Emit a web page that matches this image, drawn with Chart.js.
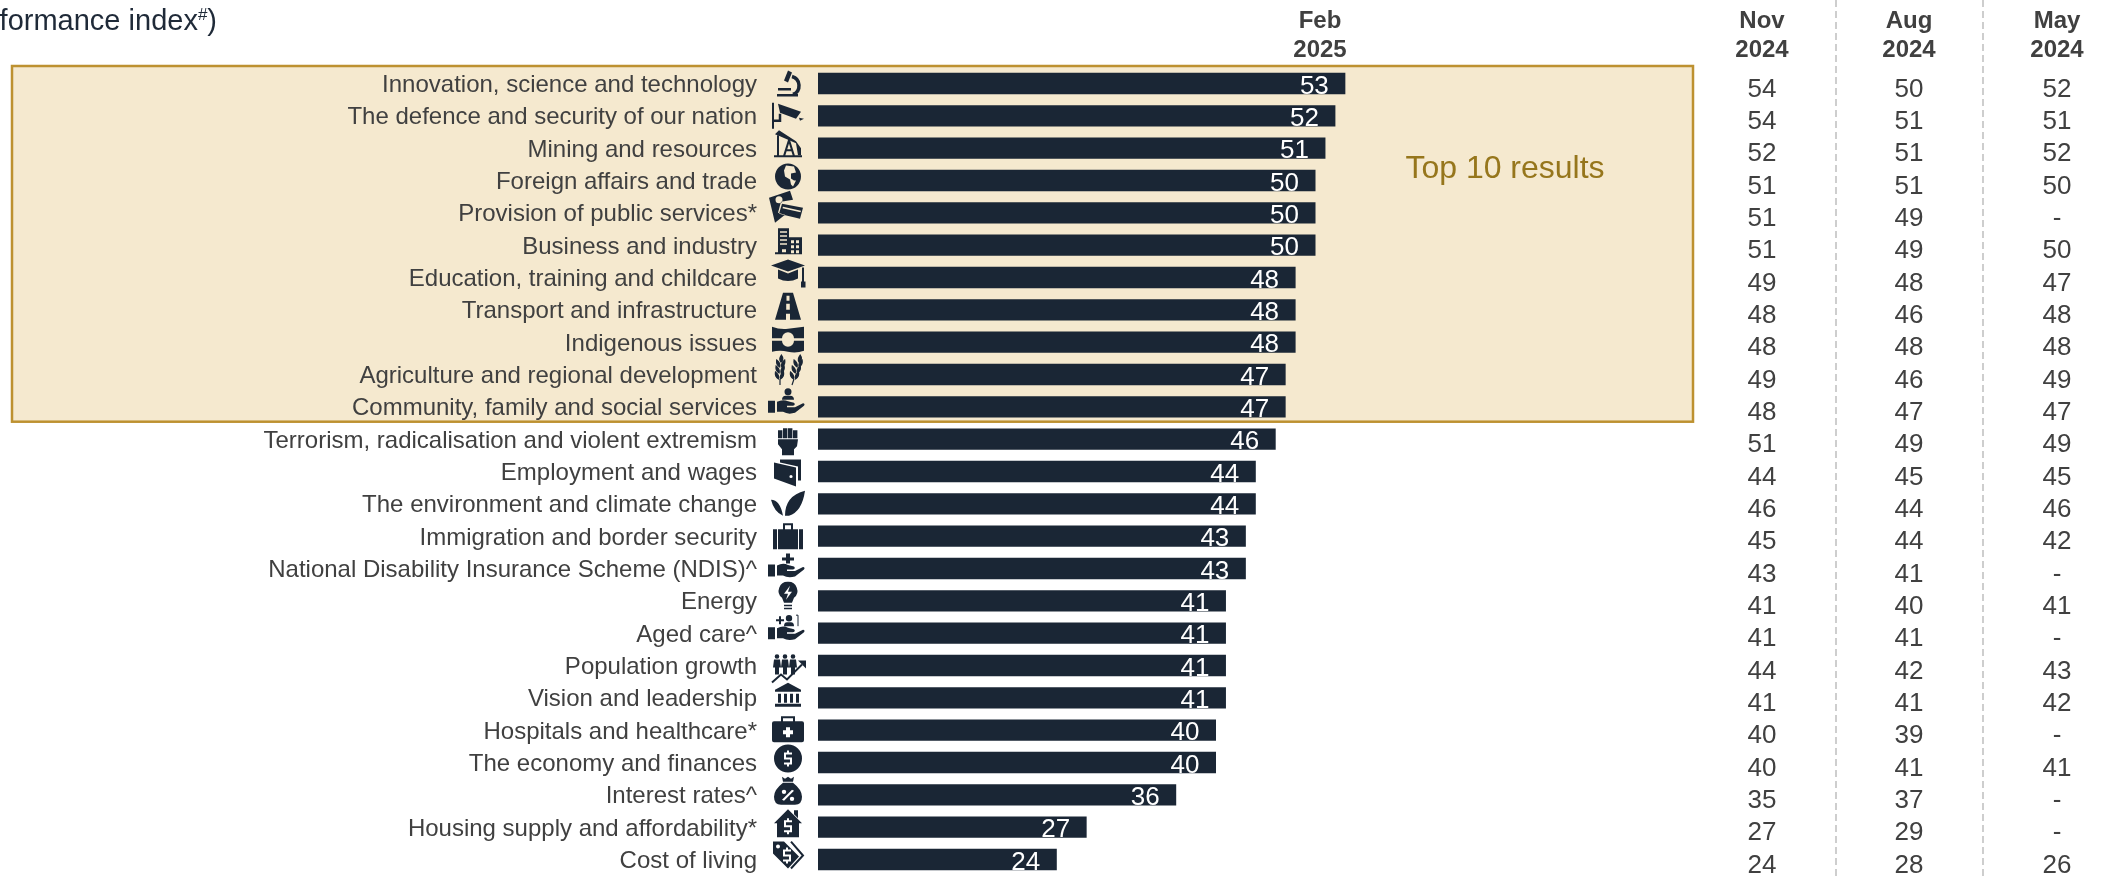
<!DOCTYPE html>
<html>
<head>
<meta charset="utf-8">
<style>
  body { margin: 0; background: #fff; }
  canvas { display: block; }
</style>
</head>
<body>
<canvas id="scoreChart" width="2103" height="876"></canvas>
<script src="https://cdn.jsdelivr.net/npm/chart.js@4/dist/chart.umd.js"></script>
<script>
// Issue names, top to bottom
const categories = [
    'Innovation, science and technology', 'The defence and security of our nation', 'Mining and resources',
    'Foreign affairs and trade', 'Provision of public services*', 'Business and industry',
    'Education, training and childcare', 'Transport and infrastructure', 'Indigenous issues',
    'Agriculture and regional development', 'Community, family and social services',
    'Terrorism, radicalisation and violent extremism', 'Employment and wages', 'The environment and climate change',
    'Immigration and border security', 'National Disability Insurance Scheme (NDIS)^', 'Energy', 'Aged care^',
    'Population growth', 'Vision and leadership', 'Hospitals and healthcare*', 'The economy and finances',
    'Interest rates^', 'Housing supply and affordability*', 'Cost of living'
];

// Index scores per wave, null where the issue was not asked
const feb2025 = [53, 52, 51, 50, 50, 50, 48, 48, 48, 47, 47, 46, 44, 44, 43, 43, 41, 41, 41, 41, 40, 40, 36, 27, 24];
const nov2024 = [54, 54, 52, 51, 51, 51, 49, 48, 48, 49, 48, 51, 44, 46, 45, 43, 41, 41, 44, 41, 40, 40, 35, 27, 24];
const aug2024 = [50, 51, 51, 51, 49, 49, 48, 46, 48, 46, 47, 49, 45, 44, 44, 41, 40, 41, 42, 41, 39, 41, 37, 29, 28];
const may2024 = [52, 51, 52, 50, null, 50, 47, 48, 48, 49, 47, 49, 45, 46, 42, null, 41, null, 43, 42, null, 41, null, null, 26];

const topResults = 11;
const BAR_COLOR = '#1a2635';
const TEXT_COLOR = '#404040';
const FONT = '"Liberation Sans", Arial, sans-serif';

// Small path helpers for the issue icons
const circle = (x, y, r) => `M${x + r},${y} A${r},${r} 0 1 1 ${x - r},${y} A${r},${r} 0 1 1 ${x + r},${y}Z`;
const rect = (x, y, w, h) => `M${x},${y} h${w} v${h} h${-w}Z`;
const dollar = (x, y) => `M${x - 4},${y - 6} h3 v-2 h2 v2 h3 v2 h-6 v3 h6 v7 h-3 v2 h-2 v-2 h-3 v-2 h6 v-3 h-6Z`;
const hand = 'M-20,-1 h7 V11 h-7Z M-11,0 Q-5,-3 0,-0.5 L6,1 Q8,3 5,4 H-1 V5.5 H7 L15,1.5 Q17.5,2 16,4 L7,11 Q0,13 -5,10 H-11Z';
const grains = (x, tilt) => {
    let d = `M${x + tilt * 14},-15 Q${x + tilt * 14 + 3},-11 ${x + tilt * 10},-8 Q${x + tilt * 14 - 3},-11 ${x + tilt * 14},-15Z`;
    for (const y of [-7, -1, 5]) {
        const mid = x - tilt * y;
        d += ` M${mid - 1},${y + 4} Q${mid - 5},${y + 2} ${mid - 4},${y - 3} Q${mid},${y} ${mid - 1},${y + 4}Z`;
        d += ` M${mid + 1},${y + 4} Q${mid + 5},${y + 2} ${mid + 4},${y - 3} Q${mid},${y} ${mid + 1},${y + 4}Z`;
    }
    return d;
};
const person = x => circle(x, -12, 2.3) + ` M${x - 3},-9 h6 l1,8 h-2 v7 h-4 v-7 h-2Z`;
const wheat = grains(-8, 0.1) + ' ' + grains(8, 0.3);

// One icon per issue, centred on the origin; dy shifts it against its row
const icons = [
    { dy: 0, fill: 'M0,-13 L4,-11 L0,-1 L-4,-3Z M-11,10.5 H10 V13 H-11Z M-10,4.5 H3 V7 H-10Z', stroke: 'M4,-7 A9.5,9.5 0 0 1 5,11', width: 3.5 },
    { dy: 0, fill: rect(-16, -13, 2, 26) + ' M-10,-12 L13,-4 L8,3 L-8,-3Z M11,2 L16,3 L12,5Z', stroke: 'M-14,5 H-8 V-2', width: 2.5 },
    { dy: -4, fill: 'M-13,-10 L-9,-14 L8,-3 L13,4 V11 H10 L8,-1 L-8,-8Z', stroke: 'M-10,-9 V12 M-4,12 L1,-4 L6,12 M-2,6 H5 M-14,12 H14' },
    { dy: -4, fill: circle(0, 0, 13) + ' M-2,-11 L6,-10 L8,-4 L3,-3 L3,2 L6,4 L8,4 L5,10 L3,8 L2,3 L-3,0 L-4,-6Z' },
    { dy: -6, fill: 'M-19,-9 L2,-16 L5,-7 L-7,-5 L-10,6 L-3,8 L-13,16Z ' + circle(-9, -7, 3.5) + ' M-6,-3 L15,1 L12,12 L-9,7Z M-5,0 L13,4 L12.5,5.5 L-5.5,1.5Z' },
    { dy: -4, fill: 'M-10,-13 H1 V-4 H14 V13 H-13 V11 H-10Z' + rect(-8, -10, 7, 1.5) + rect(-8, -6, 7, 1.5) + rect(-8, -2, 7, 1.5) + rect(-8, 2, 7, 1.5) + rect(-6, 8, 4, 3) + rect(3, -1, 3, 3) + rect(8, -1, 3, 3) + rect(3, 4, 3, 3) + rect(8, 4, 3, 3) + rect(3, 9, 3, 3) + rect(8, 9, 3, 3) },
    { dy: -4, fill: 'M0,-14 L17,-8 L0,-2 L-17,-8Z M-10,-4 L0,0 L10,-4 V5 Q0,10 -10,5Z M14,-6 H16 V8 H17.5 V14 H13 V8 H14Z' },
    { dy: -3, fill: 'M-5,-14 H5 L13,13 H-13Z' + rect(-1.5, -11, 3, 5) + rect(-1.8, -3, 3.6, 6) + rect(-2, 7, 4, 6) },
    { dy: -2.5, fill: 'M-16,-13 Q-8,-10 0,-11 T16,-13 V-1.5 H6 A6,6 0 0 0 -6,-1.5 H-16Z M-16,1 H-6 A6,6 0 0 0 6,1 H16 V11 Q8,14 0,12 T-16,12Z' },
    { dy: -4.5, fill: wheat, stroke: wheat + ' M-8,9 V15 M6,9 L4,15', width: 1.2 },
    { dy: -5, fill: hand + circle(0, -10, 3.5) + ' M-6,-2 Q-6,-6 -2,-6 H2 Q6,-6 6,-2Z' },
    { dy: 2, fill: rect(-10, -11, 4.4, 8) + rect(-5, -13, 4.4, 10) + rect(0, -13, 4.4, 10) + rect(5, -11, 4.4, 8) + ' M-10,-2 H10 L9,5 L6,8 V14 H-6 V8 L-10,3Z' },
    { dy: 1, fill: 'M-14,-10 L8,-5 V14 L-14,6Z' + circle(3, 4, 1.6) + ' M-8,-13 H13 V8 H10 V-6 L-8,-10Z' },
    { dy: 0, fill: 'M-3,12 Q-3,-8 17,-13 Q14,8 1,12Z M-5,12 Q-8,-4 -17,-4 Q-14,8 -5,12Z' },
    { dy: 0, fill: 'M-15,-7 H15 V13 H-15Z' + rect(-11, -7, 1, 20) + rect(10, -7, 1, 20) + ' M-5,-7 V-13 H5 V-7 H3 V-11 H-3 V-7Z' },
    { dy: -3, fill: hand + ' M-2,-12 h4 v4 h4 v3 h-4 v3 h-4 v-3 h-4 v-3 h4Z' },
    { dy: -5, fill: 'M0,-14 A9,9 0 0 1 6,2 L4,7 H-4 L-6,2 A9,9 0 0 1 0,-14Z M2,-10 L-4,-2 H0 L-2,4 L4,-4 H0Z' + rect(-4, 9, 8, 1.5) + rect(-4, 12, 8, 1.5) },
    { dy: -5, fill: hand + circle(1, -10, 3.2) + ' M-4,-2 Q-4,-6 -1,-6 H3 Q6,-6 6,-2Z M-11,-9 h2 v-3 h2 v3 h3 v2 h-3 v3 h-2 v-3 h-3 v-2Z', stroke: 'M8,-13 H10 V-2', width: 1 },
    { dy: 3, fill: person(-11) + ' ' + person(-3) + ' ' + person(5) + ' M10,-8 L18,-8 L18,0Z', stroke: 'M-16,14 L-7,6 L-1,11 L14,-4', width: 2 },
    { dy: -3, fill: 'M0,-12 L13,-5 V-3 H-13 V-5Z' + rect(-10, -1, 3, 9) + rect(-4, -1, 3, 9) + rect(2, -1, 3, 9) + rect(8, -1, 3, 9) + rect(-13, 9, 26, 3) },
    { dy: -1, fill: 'M-16,-6 Q-16,-8 -14,-8 H14 Q16,-8 16,-6 V11 Q16,13 14,13 H-14 Q-16,13 -16,11Z M-2,-2 H2 V1 H5 V5 H2 V8 H-2 V5 H-5 V1 H-2Z M-7,-8 V-13 H7 V-8 H5 V-11 H-5 V-8Z' },
    { dy: -4, fill: circle(0, 0, 14) + ' ' + dollar(0, 0) },
    { dy: -4, fill: 'M-6,-14 L-3,-12 L0,-14 L3,-12 L6,-14 L5,-9 H-5Z M-5,-8 H5 Q14,-1 14,6 Q14,14 7,14 H-7 Q-14,14 -14,6 Q-14,-1 -5,-8Z' + circle(-4, 1, 2.2) + circle(4, 8, 2.2) + ' M4,-1 L6,0 L-4,10 L-6,9Z' },
    { dy: -4, fill: 'M0,-14 L14,0 H11 V14 H-11 V0 H-14Z ' + dollar(0, 3) + ' M6,-13 H10 V-5 L6,-9Z' },
    { dy: -4, fill: 'M-15,-14 H-4 L11,1 L0,13 L-15,-2Z' + circle(-10, -9, 2) + dollar(-1, 0), stroke: 'M3,-14 L15,0 L3,13', width: 2 }
];

// Dashed separators, header labels and the comparison columns sit outside the plot area
const waveColumns = [
    { x: 1762, head: ['Nov', '2024'], values: nov2024 },
    { x: 1909, head: ['Aug', '2024'], values: aug2024 },
    { x: 2057, head: ['May', '2024'], values: may2024 }
];
const separators = [1836, 1983];

const bandPlugin = {
    id: 'topBand',
    beforeDraw(chart) {
        const { ctx } = chart;
        const y = chart.scales.y;
        const half = (y.getPixelForValue(1) - y.getPixelForValue(0)) / 2;
        const top = y.getPixelForValue(0) - half - 1.3;
        const bottom = y.getPixelForValue(topResults - 1) + half - 1.3;
        ctx.save();
        ctx.fillStyle = '#f5e9cf';
        ctx.strokeStyle = '#bd9130';
        ctx.lineWidth = 2.5;
        ctx.fillRect(12, top, 1681, bottom - top);
        ctx.strokeRect(12, top, 1681, bottom - top);
        ctx.fillStyle = '#96761c';
        ctx.font = '32px ' + FONT;
        ctx.textAlign = 'center';
        ctx.textBaseline = 'middle';
        ctx.fillText('Top 10 results', 1505, 169);
        ctx.restore();
    }
};

const overlayPlugin = {
    id: 'overlays',
    afterDatasetsDraw(chart) {
        const { ctx } = chart;
        const y = chart.scales.y;
        const bars = chart.getDatasetMeta(0).data;
        ctx.save();

        // Scores printed inside the bar ends
        ctx.fillStyle = '#fff';
        ctx.font = '26px ' + FONT;
        ctx.textAlign = 'center';
        ctx.textBaseline = 'middle';
        bars.forEach((bar, i) => ctx.fillText(String(feb2025[i]), bar.x - 31, bar.y + 3));

        // Icons between the issue names and the bars
        ctx.fillStyle = BAR_COLOR;
        ctx.strokeStyle = BAR_COLOR;
        icons.forEach((icon, i) => {
            ctx.save();
            ctx.translate(788, y.getPixelForValue(i) + icon.dy);
            ctx.fill(new Path2D(icon.fill), 'evenodd');
            if (icon.stroke) {
                ctx.lineWidth = icon.width || 2;
                ctx.stroke(new Path2D(icon.stroke));
            }
            ctx.restore();
        });

        // Separators between the earlier waves
        ctx.strokeStyle = '#bfbfbf';
        ctx.lineWidth = 1.5;
        ctx.setLineDash([7, 4]);
        separators.forEach(x => {
            ctx.beginPath();
            ctx.moveTo(x, 0);
            ctx.lineTo(x, 876);
            ctx.stroke();
        });
        ctx.setLineDash([]);

        // Earlier waves as plain columns
        ctx.fillStyle = TEXT_COLOR;
        ctx.font = '26px ' + FONT;
        waveColumns.forEach(col => {
            col.values.forEach((v, i) => {
                ctx.fillText(v === null ? '-' : String(v), col.x, y.getPixelForValue(i) + 6);
            });
        });

        // Column heads
        ctx.font = 'bold 24px ' + FONT;
        waveColumns.concat([{ x: 1320, head: ['Feb', '2025'] }]).forEach(col => {
            ctx.fillText(col.head[0], col.x, 21);
            ctx.fillText(col.head[1], col.x, 50);
        });

        // Tail of the chart title, cut by the left edge
        ctx.fillStyle = '#1f2a38';
        ctx.textAlign = 'right';
        ctx.font = '29px ' + FONT;
        ctx.fillText(')', 217, 22);
        const closeWidth = ctx.measureText(')').width;
        ctx.font = '17px ' + FONT;
        ctx.fillText('#', 217 - closeWidth, 15);
        const hashWidth = ctx.measureText('#').width;
        ctx.font = '29px ' + FONT;
        ctx.fillText('formance index', 217 - closeWidth - hashWidth, 22);
        ctx.restore();
    }
};

new Chart(document.getElementById('scoreChart').getContext('2d'), {
    type: 'bar',
    data: {
        labels: categories,
        datasets: [{
            data: feb2025,
            backgroundColor: BAR_COLOR,
            barPercentage: 0.66,
            categoryPercentage: 1
        }]
    },
    plugins: [bandPlugin, overlayPlugin],
    options: {
        indexAxis: 'y',
        responsive: false,
        animation: false,
        layout: { padding: { top: 67.3, bottom: 0.3, right: 688 } },
        plugins: { legend: { display: false }, tooltip: { enabled: false } },
        scales: {
            x: { display: false, min: 0, max: 60 },
            y: {
                // Tick padding is only a horizontal gap here, so it must not eat into the plot height
                afterFit(scale) {
                    scale.width = 818;
                    scale.paddingTop = 0;
                    scale.paddingBottom = 0;
                },
                grid: { display: false, drawTicks: false },
                border: { display: false },
                ticks: {
                    autoSkip: false,
                    padding: 61,
                    labelOffset: 2,
                    color: TEXT_COLOR,
                    font: { family: FONT, size: 24 }
                }
            }
        }
    }
});
</script>
</body>
</html>
